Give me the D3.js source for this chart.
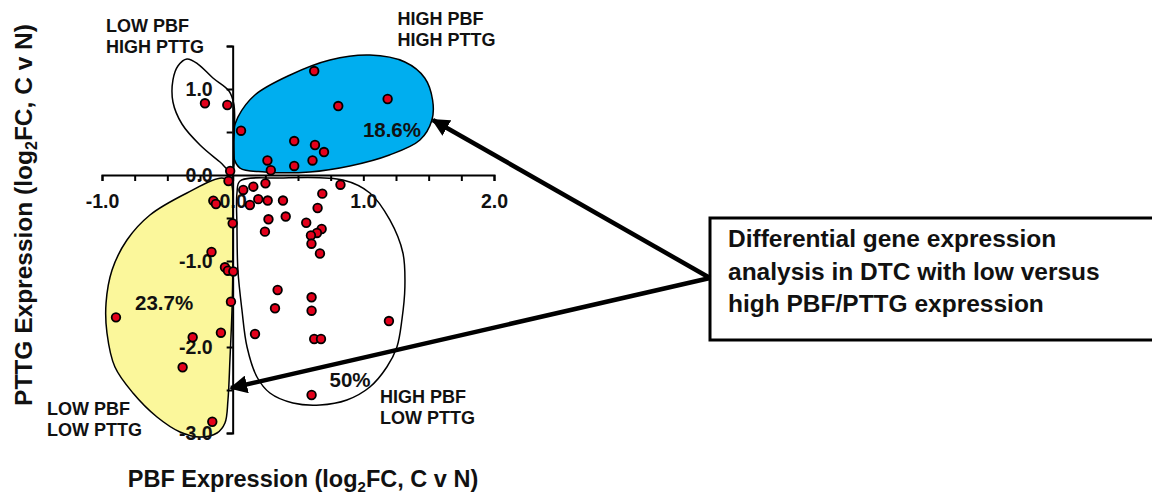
<!DOCTYPE html>
<html><head><meta charset="utf-8">
<script src="https://cdn.jsdelivr.net/npm/d3@7/dist/d3.min.js"></script>
<style>
html,body{margin:0;padding:0;background:#fff;}
svg{display:block;font-family:"Liberation Sans",Arial,sans-serif;font-weight:bold;}
</style></head>
<body><svg id="chart" width="1152" height="496"></svg>
<script>
// ---- data (log2FC, cancer vs normal) ----
const pbf = [0.624,-0.212,-0.041,0.808,1.186,0.064,0.471,0.63,0.699,0.611,0.471,0.266,0.292,-0.019,
  -0.032,0.251,0.825,0.158,0.081,0.686,-0.148,-0.128,0.196,0.268,0.132,0.385,0.65,0.0,0.274,0.406,
  0.563,0.247,0.681,0.645,0.599,0.603,0.668,-0.162,-0.059,-0.036,0.005,0.344,0.604,0.324,0.604,
  -0.013,-0.893,1.196,0.171,-0.09,-0.306,0.624,0.676,-0.383,0.604,-0.156];
const pttg = [1.209,0.834,0.814,0.802,0.884,0.515,0.395,0.349,0.267,0.169,0.105,0.169,0.055,0.047,
  -0.07,-0.097,-0.113,-0.136,-0.174,-0.217,-0.299,-0.337,-0.281,-0.297,-0.349,-0.297,-0.384,-0.562,-0.515,-0.483,
  -0.555,-0.659,-0.628,-0.674,-0.703,-0.799,-0.913,-0.895,-1.073,-1.113,-1.122,-1.337,-1.422,-1.55,-1.578,
  -1.473,-1.655,-1.698,-1.849,-1.834,-1.887,-1.907,-1.907,-2.236,-2.558,-2.869];
const xTicks = [-1,-0.75,-0.5,-0.25,0,0.25,0.5,0.75,1,1.25,1.5,1.75,2];
const yTicks = [-3,-2.5,-2,-1.5,-1,-0.5,0,0.5,1,1.5];
const xTickLabels = ["-1.0","0.0","1.0","2.0"];
const yTickLabels = ["-3.0","-2.0","-1.0","0.0","1.0"];
// group outlines (data units)
const blobHighHigh = [[0.002,0.488],[0.04,0.674],[0.17,0.93],[0.44,1.163],[0.744,1.337],[1.05,1.395],
  [1.318,1.314],[1.47,1.128],[1.53,0.872],[1.525,0.64],[1.433,0.407],[1.2,0.233],[0.897,0.105],
  [0.59,0.035],[0.247,0.035],[0.056,0.081],[0.002,0.233]];
const blobLowHigh = [[-0.35,1.349],[-0.266,1.29],[-0.151,1.128],[-0.028,0.977],[0.01,0.814],[0.01,0.407],
  [-0.006,0.035],[-0.097,0.151],[-0.25,0.349],[-0.388,0.593],[-0.457,0.849],[-0.457,1.105],[-0.419,1.267]];
const blobLowLow = [[-0.082,-0.035],[-0.35,-0.209],[-0.633,-0.465],[-0.809,-0.756],[-0.923,-1.105],
  [-0.969,-1.488],[-0.962,-1.837],[-0.901,-2.233],[-0.763,-2.535],[-0.579,-2.814],[-0.403,-2.988],
  [-0.25,-3.047],[-0.12,-3.0],[-0.059,-2.884],[-0.036,-2.616],[-0.021,-2.151],[-0.005,-1.57],
  [0.002,-0.988],[0.002,-0.407],[-0.013,-0.093]];
const blobHighLow = [[0.056,-0.07],[0.362,-0.035],[0.844,-0.058],[1.05,-0.209],[1.203,-0.523],[1.303,-0.907],
  [1.318,-1.302],[1.295,-1.686],[1.257,-2.0],[1.18,-2.233],[1.05,-2.465],[0.874,-2.616],[0.668,-2.674],
  [0.461,-2.651],[0.285,-2.535],[0.186,-2.349],[0.11,-2.0],[0.071,-1.57],[0.04,-1.105],[0.033,-0.605],[0.033,-0.209]];
const quadLabels = [
  {lines:["LOW PBF","HIGH PTTG"], x:-0.969, y:1.663},
  {lines:["HIGH PBF","HIGH PTTG"], x:1.262, y:1.744},
  {lines:["LOW PBF","LOW PTTG"], x:-1.42, y:-2.79},
  {lines:["HIGH PBF","LOW PTTG"], x:1.127, y:-2.65}];
const pctLabels = [{t:"18.6%",x:1.219,y:0.442},{t:"23.7%",x:-0.525,y:-1.57},{t:"50%",x:0.898,y:-2.465}];
const arrowTargets = [[1.532,0.64],[-0.013,-2.477]];
const boxLines = ["Differential gene expression","analysis in DTC with low versus","high PBF/PTTG expression"];

// ---- drawing ----
const svg = d3.select("#chart");
const x = d3.scaleLinear().domain([-1,2]).range([102,494]);
const y = d3.scaleLinear().domain([-3,1.5]).range([433,46]);
const blobLine = d3.line().x(d=>x(d[0])).y(d=>y(d[1])).curve(d3.curveCatmullRomClosed.alpha(0.5));

const blobs = [[blobHighHigh,"#00AEEF"],[blobLowHigh,"#ffffff"],[blobLowLow,"#FBF79B"],[blobHighLow,"#ffffff"]];
svg.append("g").selectAll("path").data(blobs).join("path")
  .attr("d",d=>blobLine(d[0])).attr("fill",d=>d[1]).attr("stroke","#000").attr("stroke-width",1.5);

const fmtX = v => { const i = [-1,0,1,2].indexOf(v); return i<0?"":xTickLabels[i]; };
const fmtY = v => { const i = [-3,-2,-1,0,1].indexOf(v); return i<0?"":yTickLabels[i]; };

const gx = svg.append("g").attr("transform",`translate(0,${y(0)})`)
  .call(d3.axisBottom(x).tickValues(xTicks).tickFormat(fmtX).tickSize(6).tickPadding(13));
const gy = svg.append("g").attr("transform",`translate(${x(0)},0)`)
  .call(d3.axisLeft(y).tickValues(yTicks).tickFormat(fmtY).tickSize(6).tickPadding(14));
[gx,gy].forEach(g=>{
  g.selectAll("path,line").attr("stroke","#000").attr("stroke-width",2);
  g.selectAll("text").attr("fill","#111").attr("font-size",19.5).attr("font-family",null).attr("font-weight","bold");
});

// quadrant labels
quadLabels.forEach(q=>{
  const t = svg.append("text").attr("x",x(q.x)).attr("y",y(q.y)).attr("font-size",18).attr("fill","#111");
  q.lines.forEach((l,i)=>t.append("tspan").attr("x",x(q.x)).attr("dy",i?21:0).text(l));
});
svg.selectAll(".pct").data(pctLabels).join("text").attr("class","pct")
  .attr("x",d=>x(d.x)).attr("y",d=>y(d.y)).attr("text-anchor","middle")
  .attr("font-size",20.5).attr("fill","#111").text(d=>d.t);

// points
svg.append("g").selectAll("circle").data(pbf.map((v,i)=>[v,pttg[i]])).join("circle")
  .attr("cx",d=>x(d[0])).attr("cy",d=>y(d[1])).attr("r",4.3)
  .attr("fill","#E3001B").attr("stroke","#000").attr("stroke-width",1.8);

// annotation box
const boxX = 710, boxY = 218, boxW = 460, boxH = 122;
svg.append("rect").attr("x",boxX).attr("y",boxY).attr("width",boxW).attr("height",boxH)
  .attr("fill","#fff").attr("stroke","#000").attr("stroke-width",3);
const bt = svg.append("text").attr("font-size",24.5).attr("fill","#111");
boxLines.forEach((l,i)=>bt.append("tspan").attr("x",728).attr("y",247+i*32.5).text(l));

// arrows
const defs = svg.append("defs");
defs.append("marker").attr("id","ah").attr("viewBox","0 0 10 10").attr("refX",9).attr("refY",5)
  .attr("markerWidth",4).attr("markerHeight",4).attr("orient","auto").attr("markerUnits","strokeWidth")
  .append("path").attr("d","M0,0L10,5L0,10z").attr("fill","#000");
const origin = [boxX, boxY + 60];
svg.selectAll(".arrow").data(arrowTargets).join("line").attr("class","arrow")
  .attr("x1",origin[0]).attr("y1",origin[1]).attr("x2",d=>x(d[0])).attr("y2",d=>y(d[1]))
  .attr("stroke","#000").attr("stroke-width",4.5).attr("marker-end","url(#ah)");

// axis titles
const xt = svg.append("text").attr("x",303).attr("y",487).attr("text-anchor","middle").attr("font-size",23.5).attr("fill","#111");
xt.append("tspan").text("PBF Expression (log");
xt.append("tspan").attr("font-size",15).attr("dy",5).text("2");
xt.append("tspan").attr("dy",-5).text("FC, C v N)");
const yt = svg.append("text").attr("transform","translate(32,215) rotate(-90)").attr("text-anchor","middle").attr("font-size",24.5).attr("fill","#111");
yt.append("tspan").text("PTTG Expression (log");
yt.append("tspan").attr("font-size",16).attr("dy",5).text("2");
yt.append("tspan").attr("dy",-5).text("FC, C v N)");
</script></body></html>
